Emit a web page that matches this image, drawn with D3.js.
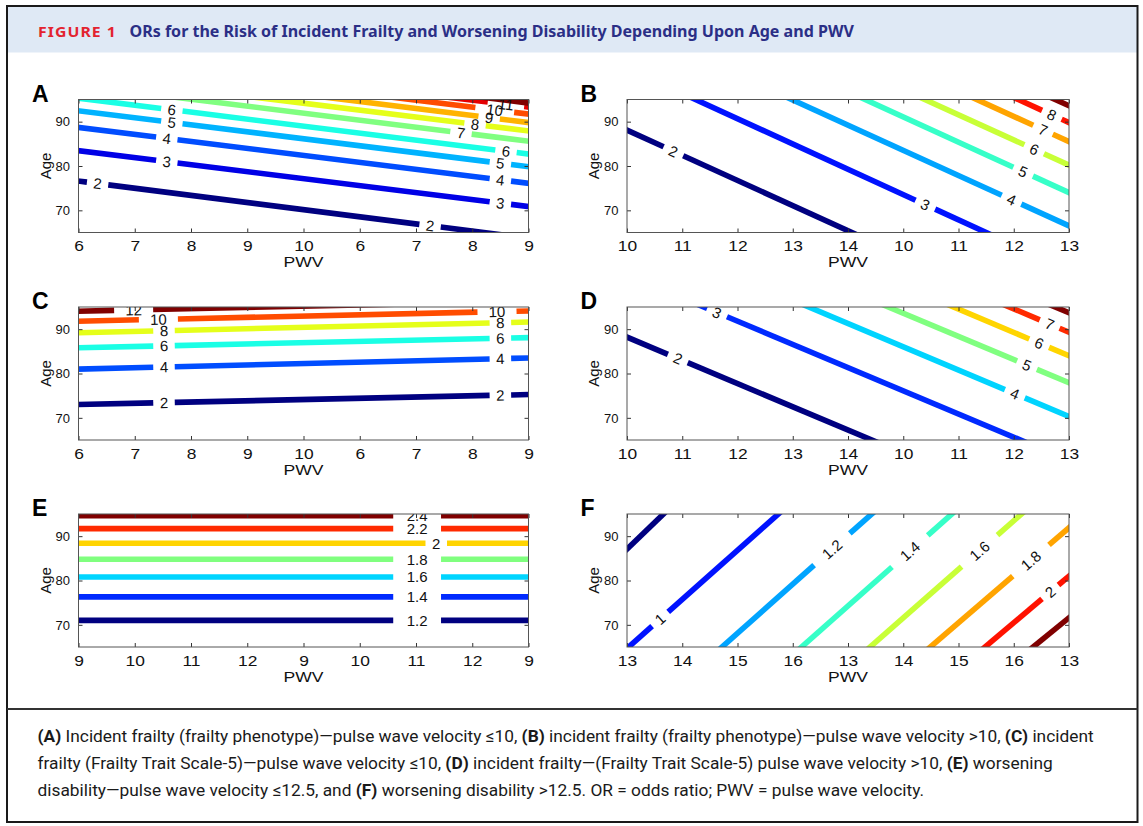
<!DOCTYPE html>
<html>
<head>
<meta charset="utf-8">
<script src="https://cdn.jsdelivr.net/npm/d3@7"></script>
<style>
  body { margin: 0; background: #fff; }
  svg { display: block; }
</style>
</head>
<body>
<script>
// PWV tick labels as printed in the figure (repeats are in the original)
const ticksA = ["6", "7", "8", "9", "10", "6", "7", "8", "9"];
const ticksB = ["10", "11", "12", "13", "14", "10", "11", "12", "13"];
const ticksC = ["6", "7", "8", "9", "10", "6", "7", "8", "9"];
const ticksD = ["10", "11", "12", "13", "14", "10", "11", "12", "13"];
const ticksE = ["9", "10", "11", "12", "9", "10", "11", "12", "9"];
const ticksF = ["13", "14", "15", "16", "13", "14", "15", "16", "13"];
const ageTicks = [70, 80, 90];

// contour lines: [OR level, x0, age0, x1, age1, label positions]
// x is measured in tick positions (0 = first tick, 8 = last tick)
const linesA = [
  [2, 0, 76.6, 7.2, 65, [0.34, 6.25]],
  [3, 0, 83.45, 8, 70.85, [1.57, 7.5]],
  [4, 0, 88.7, 8, 76.1, [1.57, 7.5]],
  [5, 0, 92.45, 8, 79.85, [1.66, 7.5]],
  [6, 0.19, 95, 8, 82.7, [1.66, 7.6]],
  [7, 2.04, 95, 8, 85.6, [6.8]],
  [8, 3.47, 95, 8, 87.9, [7.05]],
  [9, 4.71, 95, 8, 89.8, [7.3]],
  [10, 5.9, 95, 8, 91.7, [7.4]],
  [11, 6.9, 95, 8, 93.3, [7.6]],
  [12, 7.5, 95, 8, 94.2, []]
];
const linesB = [
  [2, 0, 88.1, 4.07, 65, [0.84]],
  [3, 1.24, 95, 6.5, 65, [5.4]],
  [4, 2.98, 95, 8, 66.5, [6.96]],
  [5, 4.31, 95, 8, 74.0, [7.17]],
  [6, 5.39, 95, 8, 80.2, [7.37]],
  [7, 6.33, 95, 8, 85.5, [7.53]],
  [8, 7.08, 95, 8, 89.8, [7.69]],
  [9, 7.75, 95, 8, 93.6, []]
];
const linesC = [
  [2, 0, 73.0, 8, 75.25, [1.52, 7.5]],
  [4, 0, 81.0, 8, 83.5, [1.52, 7.5]],
  [6, 0, 85.8, 8, 88.1, [1.52, 7.5]],
  [8, 0, 89.2, 8, 91.6, [1.52, 7.5]],
  [10, 0, 91.8, 8, 94.1, [1.42, 7.44]],
  [12, 0, 94.05, 8, 96.3, [0.98]]
];
const linesD = [
  [2, 0, 88.2, 4.43, 65, [0.92]],
  [3, 1.39, 95, 7.12, 65, [1.63]],
  [4, 3.29, 95, 8, 70.3, [7.02]],
  [5, 4.73, 95, 8, 77.9, [7.24]],
  [6, 5.91, 95, 8, 84.0, [7.46]],
  [7, 6.92, 95, 8, 89.3, [7.65]],
  [8, 7.75, 95, 8, 93.7, []]
];
const linesE = [
  [1.2, 0, 71.0, 8, 71.0, [6.02]],
  [1.4, 0, 76.3, 8, 76.3, [6.02]],
  [1.6, 0, 80.8, 8, 80.8, [6.02]],
  [1.8, 0, 84.8, 8, 84.8, [6.02]],
  [2, 0, 88.4, 8, 88.4, [6.36]],
  [2.2, 0, 91.7, 8, 91.7, [6.02]],
  [2.4, 0, 94.6, 8, 94.6, [6.02]]
];
const linesF = [
  [0.8, 0, 87.1, 0.66, 95, []],
  [1, 0.03, 65, 2.74, 95, [0.6]],
  [1.2, 1.72, 65, 4.43, 95, [3.71]],
  [1.4, 3.16, 65, 5.88, 95, [5.12]],
  [1.6, 4.4, 65, 7.14, 95, [6.38]],
  [1.8, 5.49, 65, 8, 91.9, [7.31]],
  [2, 6.48, 65, 8, 81.0, [7.66]],
  [2.2, 7.35, 65, 8, 71.6, []]
];

const panels = [
  {letter: "A", ticks: ticksA, lines: linesA, col: 0, row: 0},
  {letter: "B", ticks: ticksB, lines: linesB, col: 1, row: 0},
  {letter: "C", ticks: ticksC, lines: linesC, col: 0, row: 1},
  {letter: "D", ticks: ticksD, lines: linesD, col: 1, row: 1},
  {letter: "E", ticks: ticksE, lines: linesE, col: 0, row: 2},
  {letter: "F", ticks: ticksF, lines: linesF, col: 1, row: 2}
];

const figTitle = "ORs for the Risk of Incident Frailty and Worsening Disability Depending Upon Age and PWV";
const caption = [
  [["(A)", 1], [" Incident frailty (frailty phenotype)\u2014pulse wave velocity \u226410, ", 0], ["(B)", 1],
   [" incident frailty (frailty phenotype)\u2014pulse wave velocity >10, ", 0], ["(C)", 1], [" incident", 0]],
  [["frailty (Frailty Trait Scale-5)\u2014pulse wave velocity \u226410, ", 0], ["(D)", 1],
   [" incident frailty\u2014(Frailty Trait Scale-5) pulse wave velocity >10, ", 0], ["(E)", 1], [" worsening", 0]],
  [["disability\u2014pulse wave velocity \u226412.5, and ", 0], ["(F)", 1],
   [" worsening disability >12.5. OR = odds ratio; PWV = pulse wave velocity.", 0]]
];

// layout
const W = 1143, H = 826;
const colLeft = [78.5, 627], colWidth = [450, 442];
const rowTop = [99.5, 307, 514], plotH = 133;
const axisFont = "'Liberation Sans', Arial, Helvetica, sans-serif";
const stretch = 1.2; // x labels in the original are drawn a bit wide

function jet(t) {
  const c = v => Math.max(0, Math.min(1, v));
  return d3.rgb(255 * c(1.5 - Math.abs(4 * t - 3)),
                255 * c(1.5 - Math.abs(4 * t - 2)),
                255 * c(1.5 - Math.abs(4 * t - 1))).formatHex();
}

const svg = d3.select("body").append("svg")
    .attr("width", W)
    .attr("height", H);

// frame and header band
svg.append("rect")
    .attr("x", 8).attr("y", 7).attr("width", 1129).attr("height", 45.5)
    .attr("fill", "#dfe9f5");
svg.append("rect")
    .attr("x", 7).attr("y", 6).attr("width", 1130.5).attr("height", 816)
    .attr("fill", "none").attr("stroke", "#1a1a1a").attr("stroke-width", 2);
svg.append("line")
    .attr("x1", 7).attr("x2", 1137.5).attr("y1", 709).attr("y2", 709)
    .attr("stroke", "#333").attr("stroke-width", 2);

const headFont = "'Noto Sans', 'Open Sans', sans-serif";
const figLabel = svg.append("text")
    .attr("font-family", headFont).attr("font-weight", 700).attr("font-size", 15)
    .attr("fill", "#e3232f")
    .attr("letter-spacing", 1)
    .text("FIGURE 1");
const fw = figLabel.node().getComputedTextLength();
figLabel.attr("transform", `translate(38,36.7) scale(${79 / fw},1)`);
const titleText = svg.append("text")
    .attr("x", 129.5).attr("y", 36.7)
    .attr("font-family", headFont).attr("font-weight", 700).attr("font-size", 15)
    .attr("fill", "#2b2f86")
    .text(figTitle);
const tw = titleText.node().getComputedTextLength();
titleText.attr("font-size", 15 * 725 / tw);

// panels
panels.forEach(p => {
  const w = colWidth[p.col], h = plotH;
  const left = colLeft[p.col], top = rowTop[p.row];
  const g = svg.append("g").attr("transform", `translate(${left},${top})`);

  const x = d3.scaleLinear().domain([0, p.ticks.length - 1]).range([0, w]);
  const y = d3.scaleLinear().domain([65, 95]).range([h, 0]);
  const t = d3.scaleLinear().domain(d3.extent(p.lines, d => d[0])).range([0, 1]);

  const clipId = "clip" + p.letter;
  g.append("clipPath").attr("id", clipId)
    .append("rect").attr("width", w).attr("height", h);

  const plot = g.append("g").attr("clip-path", `url(#${clipId})`);
  const lineG = plot.append("g");
  const labelG = plot.append("g")
      .attr("font-family", axisFont)
      .attr("font-size", 15)
      .attr("fill", "#111");

  p.lines.forEach(([level, x0, a0, x1, a1, labs]) => {
    const p0 = [x(x0), y(a0)], p1 = [x(x1), y(a1)];
    const dx = p1[0] - p0[0], dy = p1[1] - p0[1];
    const len = Math.hypot(dx, dy);
    const ux = dx / len, uy = dy / len;
    const ext = 600;
    let ang = Math.atan2(uy, ux) * 180 / Math.PI;
    if (ang > 90) ang -= 180;
    if (ang < -90) ang += 180;

    const gaps = labs.map(lx => {
      const s = (x(lx) - p0[0]) / ux;
      const px = p0[0] + ux * s, py = p0[1] + uy * s;
      const txt = labelG.append("text")
          .attr("transform", `translate(${px},${py}) rotate(${ang})`)
          .attr("text-anchor", "middle")
          .attr("dy", "0.36em")
          .text(d3.format("~g")(level));
      const gw = txt.node().getComputedTextLength() * 2.1 + 4;
      return [ext + s - gw / 2, ext + s + gw / 2];
    }).sort((a, b) => a[0] - b[0]);

    const pieces = [];
    let start = 0;
    gaps.forEach(([g0, g1]) => { pieces.push([start, g0]); start = g1; });
    pieces.push([start, ext * 2 + len]);

    const sx = p0[0] - ux * ext, sy = p0[1] - uy * ext;
    lineG.selectAll(null)
      .data(pieces)
      .join("line")
        .attr("x1", d => sx + ux * d[0])
        .attr("y1", d => sy + uy * d[0])
        .attr("x2", d => sx + ux * d[1])
        .attr("y2", d => sy + uy * d[1])
        .attr("stroke", jet(t(level)))
        .attr("stroke-width", 5.6);
  });

  // axes, ticks pointing inward on all four sides
  const axes = g.append("g")
      .attr("font-family", axisFont)
      .attr("color", "#333");
  const tickIdx = d3.range(p.ticks.length);

  const bottom = axes.append("g")
      .attr("transform", `translate(0,${h})`)
      .call(d3.axisBottom(x).tickValues(tickIdx).tickFormat(i => p.ticks[i])
        .tickSizeInner(-4).tickSizeOuter(0).tickPadding(8.5));
  axes.append("g")
      .call(d3.axisTop(x).tickValues(tickIdx).tickFormat("")
        .tickSizeInner(-4).tickSizeOuter(0));
  const leftAx = axes.append("g")
      .call(d3.axisLeft(y).tickValues(ageTicks).tickFormat(d3.format("d"))
        .tickSizeInner(-4).tickSizeOuter(0).tickPadding(8.5));
  axes.append("g")
      .attr("transform", `translate(${w},0)`)
      .call(d3.axisRight(y).tickValues(ageTicks).tickFormat("")
        .tickSizeInner(-4).tickSizeOuter(0));

  axes.selectAll(".domain").remove();
  bottom.selectAll("text")
      .attr("font-size", 14.5).attr("fill", "#111")
      .attr("transform", `scale(${stretch},1)`);
  leftAx.selectAll("text").attr("font-size", 13).attr("fill", "#111");

  axes.append("rect")
      .attr("width", w).attr("height", h)
      .attr("fill", "none").attr("stroke", "#555").attr("stroke-width", 1);

  g.append("text")
      .attr("transform", `translate(${w / 2},${h + 34.5}) scale(1.17,1)`)
      .attr("text-anchor", "middle")
      .attr("font-family", axisFont).attr("font-size", 15)
      .attr("fill", "#111")
      .text("PWV");
  g.append("text")
      .attr("transform", `translate(-28,${h / 2}) rotate(-90)`)
      .attr("text-anchor", "middle")
      .attr("font-family", axisFont).attr("font-size", 15)
      .attr("fill", "#111")
      .text("Age");

  g.append("text")
      .attr("x", -46.5).attr("y", 2.3)
      .attr("font-family", axisFont).attr("font-weight", 700).attr("font-size", 23)
      .attr("fill", "#000")
      .text(p.letter);
});

// caption
const capFont = "Roboto, 'Noto Sans', sans-serif";
const capY = [742, 769, 796];
const capG = svg.append("g")
    .attr("font-family", capFont)
    .attr("font-size", 16)
    .attr("fill", "#1a1a1a");
const capLines = capG.selectAll("text")
  .data(caption)
  .join("text")
    .attr("x", 37.5)
    .attr("y", (d, i) => capY[i]);
capLines.selectAll("tspan")
  .data(d => d)
  .join("tspan")
    .attr("font-weight", d => d[1] ? 700 : 400)
    .text(d => d[0]);
const cw = capLines.node().getComputedTextLength();
capG.attr("font-size", 16 * 1057 / cw);
</script>
</body>
</html>
